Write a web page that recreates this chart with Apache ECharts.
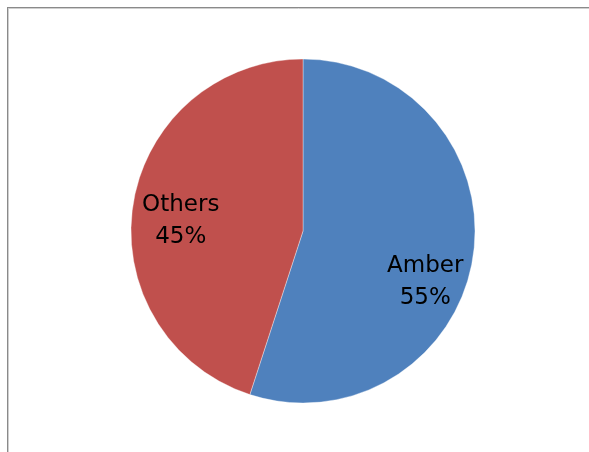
<!DOCTYPE html>
<html>
<head>
<meta charset="utf-8">
<script src="https://cdn.jsdelivr.net/npm/echarts@6/dist/echarts.min.js"></script>
<style>
html,body{margin:0;padding:0;background:#fff;}
#c{width:589px;height:452px;}
</style>
</head>
<body>
<div id="c"></div>
<script>
const categories = ['Amber', 'Others'];
const shares = [55, 45];
const colors = ['#4F81BD', '#C0504D'];

const chart = echarts.init(document.getElementById('c'), null, {renderer: 'canvas'});
const pieData = categories.map((n, i) => ({name: n, value: shares[i], itemStyle: {color: colors[i]}}));
const center = [303, 231];
const R = 172;
chart.setOption({
  animation: false,
  backgroundColor: '#ffffff',
  graphic: [
    {type: 'line', shape: {x1: 7, y1: 7.5, x2: 589, y2: 7.5}, style: {stroke: '#8a8a8a', lineWidth: 1}},
    {type: 'line', shape: {x1: 8, y1: 8.5, x2: 589, y2: 8.5}, style: {stroke: '#cfcfcf', lineWidth: 1}},
    {type: 'line', shape: {x1: 7.5, y1: 7, x2: 7.5, y2: 452}, style: {stroke: '#8a8a8a', lineWidth: 1}},
    {type: 'line', shape: {x1: 8.5, y1: 8, x2: 8.5, y2: 452}, style: {stroke: '#cfcfcf', lineWidth: 1}}
  ],
  series: [
    {
      type: 'pie',
      center: center,
      radius: [0, R],
      startAngle: 90,
      clockwise: true,
      silent: true,
      label: {show: false},
      labelLine: {show: false},
      itemStyle: {borderColor: 'rgba(255,255,255,0.6)', borderWidth: 0.6},
      data: pieData
    },
    {
      type: 'pie',
      center: [303, 252],
      radius: [0, 246],
      startAngle: 85,
      clockwise: true,
      silent: true,
      z: 5,
      itemStyle: {color: 'rgba(0,0,0,0)'},
      label: {
        show: true,
        position: 'inside',
        formatter: '{b}\n{d}%',
        color: '#000',
        fontFamily: 'DejaVu Sans, Verdana, sans-serif',
        fontSize: 23,
        lineHeight: 32
      },
      labelLine: {show: false},
      data: categories.map((n, i) => ({name: n, value: shares[i]}))
    }
  ]
});
</script>
</body>
</html>
